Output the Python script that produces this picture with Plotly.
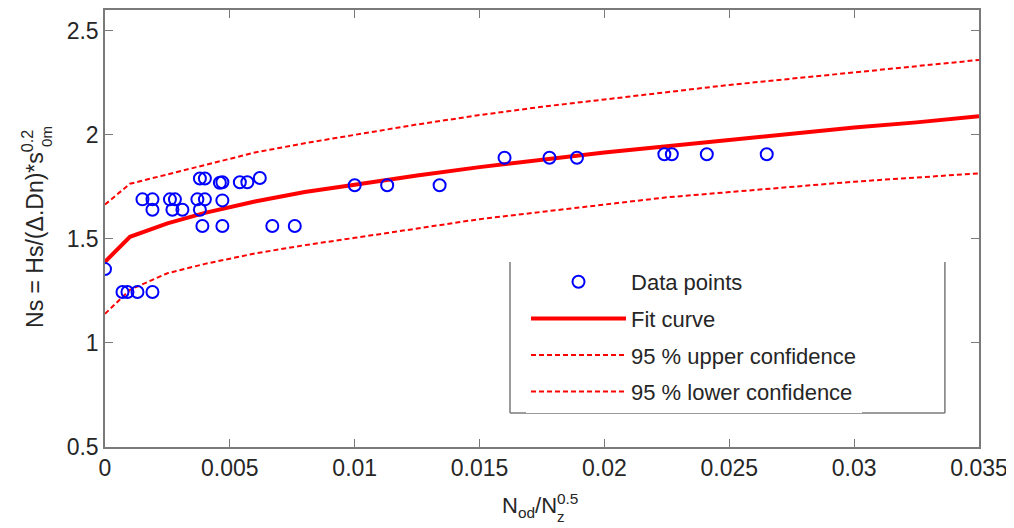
import plotly.graph_objects as go

# ---- data ----
data_x = [0.0, 0.0007, 0.0009, 0.0013, 0.0019,
          0.0015, 0.0019, 0.0026, 0.0028, 0.0037, 0.0040, 0.0047,
          0.0019, 0.0027, 0.0031, 0.0038,
          0.0038, 0.0040,
          0.0046, 0.0047, 0.0054, 0.0057, 0.0062,
          0.0039, 0.0047, 0.0067, 0.0076,
          0.0100, 0.0113, 0.0134,
          0.0160, 0.0178, 0.0189,
          0.0224, 0.0227, 0.0241, 0.0265]
data_y = [1.355, 1.245, 1.245, 1.245, 1.245,
          1.69, 1.69, 1.69, 1.69, 1.69, 1.69, 1.685,
          1.64, 1.64, 1.64, 1.64,
          1.79, 1.79,
          1.77, 1.772, 1.772, 1.772, 1.793,
          1.562, 1.562, 1.562, 1.562,
          1.758, 1.758, 1.758,
          1.89, 1.89, 1.89,
          1.907, 1.907, 1.907, 1.907]

curve_x = [0.0, 0.001, 0.0025, 0.004, 0.006, 0.008, 0.01, 0.0125, 0.015,
           0.0175, 0.02, 0.0225, 0.025, 0.0275, 0.03, 0.0325, 0.035]
fit_y = [1.39, 1.51, 1.575, 1.625, 1.68, 1.725, 1.76, 1.805, 1.845,
         1.88, 1.915, 1.945, 1.975, 2.005, 2.035, 2.06, 2.09]
upper_y = [1.665, 1.765, 1.81, 1.855, 1.915, 1.96, 2.0, 2.05, 2.095,
           2.135, 2.17, 2.205, 2.24, 2.27, 2.30, 2.33, 2.36]
lower_y = [1.14, 1.255, 1.335, 1.38, 1.43, 1.47, 1.505, 1.55, 1.595,
           1.63, 1.665, 1.70, 1.725, 1.75, 1.775, 1.795, 1.815]

x_ticks = [0, 0.005, 0.01, 0.015, 0.02, 0.025, 0.03, 0.035]
x_tick_labels = ["0", "0.005", "0.01", "0.015", "0.02", "0.025", "0.03", "0.035"]
y_ticks = [0.5, 1, 1.5, 2, 2.5]
y_tick_labels = ["0.5", "1", "1.5", "2", "2.5"]

FONT = "Liberation Sans, Arial, Helvetica, sans-serif"
TXT = "#262626"
AX = "#7a7a7a"

fig = go.Figure()
fig.add_trace(go.Scatter(x=curve_x, y=fit_y, mode="lines", name="Fit curve",
                         line=dict(color="#ff0000", width=4),
                         legendgroup="b", legendrank=2))
fig.add_trace(go.Scatter(x=curve_x, y=upper_y, mode="lines", name="95 % upper confidence",
                         line=dict(color="#ff0000", width=2, dash="5px,3px"),
                         legendgroup="c", legendrank=3))
fig.add_trace(go.Scatter(x=curve_x, y=lower_y, mode="lines", name="95 % lower confidence",
                         line=dict(color="#ff0000", width=2, dash="5px,3px"),
                         legendgroup="d", legendrank=4))
fig.add_trace(go.Scatter(x=data_x, y=data_y, mode="markers", name="Data points",
                         marker=dict(symbol="circle-open", size=12, color="#0000ff",
                                     line=dict(width=2, color="#0000ff")),
                         legendgroup="a", legendrank=1))

axis_common = dict(showgrid=False, zeroline=False, showline=True, linecolor=AX,
                   linewidth=1.5, mirror="ticks", ticks="inside", ticklen=8,
                   tickcolor=AX, tickwidth=1.2, automargin=False,
                   tickfont=dict(family=FONT, size=23, color=TXT))

fig.update_layout(
    width=1014, height=528,
    margin=dict(l=97, r=43, t=2, b=89),
    paper_bgcolor="white", plot_bgcolor="white",
    font=dict(family=FONT, color=TXT),
    xaxis=dict(range=[0, 0.035], tickvals=x_ticks, ticktext=x_tick_labels, **axis_common),
    yaxis=dict(range=[0.5, 2.6], tickvals=y_ticks, ticktext=y_tick_labels, **axis_common),
    legend=dict(x=0.4817, y=0.4256, xanchor="left", yanchor="top",
                bgcolor="rgba(255,255,255,1)", borderwidth=0,
                font=dict(family=FONT, size=22, color=TXT),
                itemwidth=95, tracegroupgap=5, traceorder="grouped"),
    annotations=[
        dict(text="N<sub>od</sub>/N<sup>0.5</sup>", xref="paper", yref="paper",
             x=0.4977, y=-0.133, xanchor="center", yanchor="middle", showarrow=False,
             font=dict(family=FONT, size=22, color=TXT)),
        dict(text="z", xref="paper", yref="paper",
             x=0.5217, y=-0.158, xanchor="center", yanchor="middle", showarrow=False,
             font=dict(family=FONT, size=15, color=TXT)),
        dict(text="Ns = Hs/(\u0394.Dn)*s<sup>0.2</sup>", xref="paper", yref="paper",
             x=-0.0824, y=0.4989, xanchor="center", yanchor="middle", textangle=-90,
             showarrow=False, font=dict(family=FONT, size=23, color=TXT)),
        dict(text="0m", xref="paper", yref="paper",
             x=-0.0664, y=0.7117, xanchor="center", yanchor="middle", textangle=-90,
             showarrow=False, font=dict(family=FONT, size=15, color=TXT)),
    ],
    shapes=[
        dict(type="line", xref="paper", yref="paper", x0=0.4634, x1=0.4634, y0=0.0778, y1=0.4233,
             line=dict(color=AX, width=1.5)),
        dict(type="line", xref="paper", yref="paper", x0=0.4634, x1=0.961, y0=0.0778, y1=0.0778,
             line=dict(color=AX, width=1.5)),
        dict(type="line", xref="paper", yref="paper", x0=0.961, x1=0.961, y0=0.0778, y1=0.4233,
             line=dict(color=AX, width=1.5)),
    ],
)

fig.write_html("out.html")
